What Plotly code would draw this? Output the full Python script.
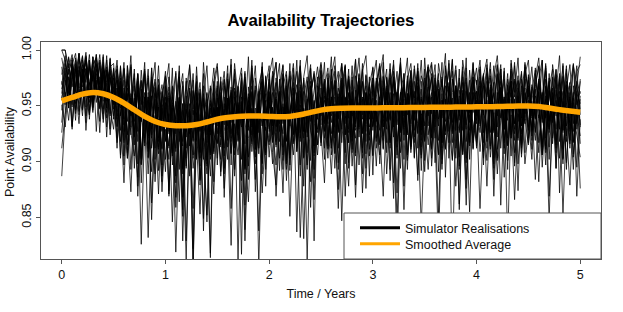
import numpy as np
import plotly.graph_objects as go

# ---------------- data ----------------
# Each simulator realisation: 151 values, t = 0 .. 5 years (step 1/30 year)
r01 = [1.0, 1.0, .978, .993, .952, .986, .971, .995, .938, .982, .964, .991, .947, .979, .958,
       .984, .931, .972, .905, .958, .987, .923, .966, .881, .949, .975, .912, .941, .969, .897,
       .958, .874, .936, .981, .918, .952, .829, .944, .973, .902, .961, .927, .889, .955, .934,
       .972, .915, .948, .986, .897, .963, .938, .979, .861, .951, .924, .968, .907, .985, .942,
       .918, .966, .989, .935, .872, .958, .977, .924, .952, .991, .903, .946, .968, .885, .959,
       .982, .927, .961, .994, .908, .953, .975, .869, .944, .986, .931, .967, .912, .978, .949,
       .905, .971, .988, .939, .962, .883, .955, .981, .926, .969, .993, .914, .947, .976, .892,
       .963, .987, .921, .958, .979, .898, .946, .991, .935, .968, .857, .952, .984, .917, .973,
       .941, .976, .903, .962, .989, .928, .955, .972, .886, .949, .981, .934, .966, .912, .987,
       .958, .923, .979, .946, .991, .908, .964, .937, .983, .872, .955, .972, .919, .961, .986,
       .931]
r02 = [.887, .942, .968, .929, .985, .957, .974, .991, .946, .978, .962, .989, .935, .971, .983,
       .952, .977, .918, .961, .936, .985, .894, .947, .972, .921, .958, .863, .939, .974, .928,
       .891, .957, .942, .819, .925, .968, .903, .946, .979, .917, .853, .938, .962, .908, .949,
       .935, .976, .894, .957, .921, .983, .946, .872, .962, .931, .978, .915, .953, .889, .967,
       .986, .924, .956, .903, .971, .942, .988, .916, .949, .967, .878, .952, .983, .937, .906,
       .948, .972, .911, .965, .986, .929, .953, .898, .974, .941, .991, .922, .958, .876, .969,
       .984, .936, .958, .911, .975, .949, .867, .961, .988, .924, .952, .979, .903, .966, .941,
       .919, .965, .987, .943, .906, .972, .951, .988, .927, .959, .893, .976, .945, .962, .911,
       .973, .932, .958, .987, .914, .951, .979, .861, .945, .968, .924, .986, .953, .907, .962,
       .928, .969, .947, .882, .958, .984, .931, .966, .912, .975, .953, .899, .942, .988, .951,
       .963]
r03 = [1.0, .991, .967, .984, .943, .979, .995, .962, .988, .951, .973, .996, .958, .982, .929,
       .967, .912, .985, .948, .961, .893, .952, .979, .936, .962, .909, .984, .945, .871, .955,
       .981, .931, .962, .887, .946, .918, .975, .938, .808, .953, .927, .968, .896, .942, .972,
       .903, .958, .981, .932, .964, .917, .951, .883, .969, .943, .986, .928, .955, .899, .977,
       .948, .981, .913, .962, .937, .974, .892, .953, .928, .985, .946, .908, .961, .979, .926,
       .958, .902, .975, .941, .969, .926, .988, .951, .917, .963, .934, .979, .889, .947, .971,
       .928, .972, .955, .989, .908, .949, .976, .933, .962, .878, .954, .981, .937, .968, .919,
       .983, .947, .903, .969, .938, .976, .924, .958, .992, .912, .948, .971, .936, .855, .962,
       .912, .968, .942, .979, .951, .894, .963, .987, .929, .957, .972, .908, .946, .981, .934,
       .976, .941, .965, .917, .953, .988, .936, .962, .894, .971, .945, .983, .927, .958, .969,
       .942]
r04 = [.957, .979, .948, .991, .966, .934, .983, .971, .996, .952, .987, .963, .978, .944, .992,
       .938, .973, .956, .989, .924, .961, .947, .978, .902, .954, .983, .929, .966, .941, .882,
       .947, .962, .908, .937, .976, .851, .942, .963, .919, .985, .934, .957, .901, .968, .912,
       .961, .887, .943, .972, .925, .958, .811, .946, .979, .931, .962, .904, .953, .985, .937,
       .971, .935, .958, .892, .967, .981, .941, .918, .962, .986, .927, .953, .972, .905, .959,
       .933, .967, .984, .925, .952, .899, .971, .946, .983, .918, .959, .975, .938, .961, .887,
       .969, .942, .917, .976, .955, .988, .931, .962, .947, .973, .906, .954, .983, .926, .958,
       .891, .954, .975, .938, .963, .912, .986, .957, .929, .968, .944, .981, .903, .959, .976,
       .949, .926, .971, .958, .983, .937, .901, .965, .948, .979, .921, .956, .874, .962, .985,
       .917, .963, .938, .974, .952, .986, .929, .958, .941, .979, .903, .951, .968, .934, .972,
       .961]
r05 = [.972, .951, .988, .967, .983, .942, .975, .993, .958, .981, .966, .947, .985, .971, .924,
       .959, .986, .941, .973, .903, .951, .968, .927, .982, .946, .889, .957, .974, .918, .963,
       .937, .914, .958, .979, .893, .946, .927, .966, .942, .971, .884, .935, .961, .902, .948,
       .925, .957, .973, .913, .942, .966, .931, .954, .839, .946, .968, .922, .959, .974, .906,
       .954, .977, .931, .958, .986, .919, .948, .971, .837, .942, .963, .926, .958, .981, .945,
       .981, .936, .957, .912, .973, .948, .985, .924, .961, .942, .977, .897, .953, .968, .931,
       .944, .967, .986, .923, .951, .975, .936, .962, .918, .949, .893, .968, .957, .981, .928,
       .962, .985, .912, .947, .973, .939, .958, .981, .925, .956, .971, .942, .876, .957, .989,
       .934, .962, .978, .918, .951, .986, .941, .967, .929, .955, .983, .919, .958, .939, .974,
       .953, .911, .969, .985, .938, .957, .972, .921, .963, .947, .988, .932, .956, .917, .968,
       .947]
r06 = [.946, .968, .983, .931, .965, .952, .987, .928, .971, .944, .979, .962, .938, .985, .957,
       .968, .917, .944, .881, .953, .926, .905, .947, .826, .935, .958, .891, .932, .949, .873,
       .929, .902, .951, .859, .927, .914, .812, .938, .903, .944, .883, .921, .846, .936, .909,
       .948, .891, .927, .955, .858, .934, .906, .947, .829, .921, .943, .898, .937, .872, .931,
       .915, .949, .869, .931, .952, .893, .938, .906, .947, .832, .922, .945, .882, .934, .956,
       .927, .881, .948, .917, .943, .858, .935, .957, .899, .944, .921, .953, .872, .936, .951,
       .906, .945, .928, .869, .951, .917, .938, .847, .942, .956, .901, .936, .952, .888, .943,
       .934, .893, .947, .925, .821, .951, .912, .939, .957, .878, .931, .948, .899, .942, .921,
       .946, .858, .933, .955, .904, .944, .889, .937, .956, .914, .942, .866, .935, .951, .898,
       .929, .952, .884, .942, .916, .956, .869, .938, .947, .903, .954, .928, .879, .944, .925,
       .904]
r07 = [.961, .988, .973, .949, .993, .967, .941, .984, .972, .955, .996, .968, .943, .982, .959,
       .975, .938, .967, .919, .979, .946, .926, .963, .904, .958, .937, .974, .912, .951, .969,
       .943, .912, .968, .929, .957, .894, .947, .925, .964, .903, .938, .961, .917, .952, .933,
       .968, .935, .912, .957, .941, .979, .918, .952, .937, .904, .963, .911, .955, .932, .976,
       .937, .962, .918, .974, .906, .953, .936, .978, .912, .961, .939, .897, .968, .945, .915,
       .966, .934, .979, .912, .958, .939, .973, .924, .962, .896, .948, .978, .928, .961, .911,
       .975, .938, .915, .966, .929, .983, .947, .906, .962, .935, .977, .911, .954, .984, .931,
       .957, .981, .926, .963, .907, .948, .977, .932, .901, .966, .941, .985, .918, .952, .976,
       .914, .958, .979, .925, .967, .898, .951, .983, .929, .962, .905, .974, .946, .917, .981,
       .965, .928, .984, .952, .908, .968, .937, .976, .915, .951, .986, .923, .962, .904, .948,
       .972]
r08 = [.985, .958, .994, .932, .978, .997, .946, .983, .961, .991, .927, .976, .954, .995, .941,
       .983, .932, .968, .897, .986, .941, .975, .878, .958, .981, .923, .984, .902, .967, .938,
       .977, .869, .958, .936, .986, .889, .951, .973, .822, .962, .928, .979, .898, .955, .984,
       .939, .972, .868, .953, .987, .912, .968, .943, .981, .884, .959, .986, .926, .964, .893,
       .979, .932, .966, .988, .901, .952, .981, .925, .962, .887, .975, .943, .984, .914, .958,
       .987, .912, .967, .944, .981, .893, .961, .987, .929, .973, .879, .955, .983, .934, .976,
       .888, .966, .985, .931, .976, .949, .991, .903, .962, .979, .924, .972, .943, .988, .913,
       .967, .985, .922, .973, .948, .989, .886, .964, .981, .935, .983, .909, .969, .944, .988,
       .945, .983, .897, .966, .977, .926, .986, .952, .907, .974, .958, .989, .921, .968, .937,
       .978, .919, .967, .986, .935, .974, .902, .961, .982, .943, .976, .893, .968, .987, .929,
       .974]
r09 = [.926, .962, .937, .974, .986, .945, .978, .958, .991, .949, .983, .961, .994, .939, .975,
       .962, .973, .928, .966, .908, .951, .925, .886, .943, .917, .962, .848, .937, .911, .956,
       .918, .943, .846, .931, .958, .893, .928, .952, .906, .961, .879, .936, .913, .814, .947,
       .931, .902, .952, .919, .967, .887, .939, .958, .912, .864, .948, .926, .963, .898, .942,
       .958, .908, .879, .946, .925, .966, .897, .951, .922, .963, .904, .947, .859, .955, .929,
       .943, .971, .912, .958, .894, .946, .967, .921, .878, .956, .928, .969, .908, .952, .924,
       .957, .912, .948, .972, .889, .941, .961, .918, .952, .857, .946, .966, .922, .958, .903,
       .948, .967, .896, .941, .962, .917, .953, .971, .902, .947, .926, .964, .884, .951, .932,
       .917, .952, .968, .921, .958, .869, .947, .966, .919, .951, .972, .899, .943, .925, .961,
       .938, .902, .959, .948, .913, .967, .926, .955, .894, .946, .963, .918, .952, .907, .944,
       .923]
r10 = [.993, .975, .952, .988, .966, .997, .947, .983, .959, .994, .971, .936, .987, .954, .981,
       .968, .945, .981, .927, .966, .948, .915, .972, .936, .979, .903, .955, .971, .921, .962,
       .939, .967, .908, .954, .935, .972, .894, .947, .918, .961, .932, .849, .956, .924, .966,
       .916, .959, .937, .969, .908, .952, .924, .973, .893, .955, .931, .964, .912, .968, .941,
       .963, .929, .897, .956, .975, .918, .943, .966, .909, .951, .973, .922, .958, .893, .962,
       .941, .974, .921, .955, .972, .912, .958, .934, .977, .919, .946, .968, .903, .962, .938,
       .964, .918, .973, .936, .955, .979, .922, .958, .908, .967, .942, .963, .917, .971, .933,
       .966, .932, .962, .899, .954, .974, .928, .961, .917, .968, .945, .906, .963, .935, .971,
       .937, .968, .917, .959, .975, .929, .903, .963, .935, .969, .921, .952, .973, .916, .958,
       .968, .943, .919, .971, .906, .959, .936, .975, .918, .963, .928, .967, .912, .957, .934,
       .959]
r11 = [.965, .984, .948, .976, .991, .957, .982, .941, .987, .962, .994, .949, .978, .931, .973,
       .958, .921, .975, .938, .903, .957, .924, .968, .897, .942, .832, .931, .956, .907, .948,
       .919, .959, .897, .937, .864, .952, .912, .945, .803, .929, .955, .902, .944, .926, .871,
       .949, .913, .958, .928, .825, .952, .919, .947, .896, .961, .909, .943, .838, .932, .955,
       .904, .948, .927, .961, .913, .951, .851, .939, .958, .897, .947, .812, .933, .954, .915,
       .957, .928, .964, .906, .949, .958, .847, .941, .926, .962, .905, .948, .956, .894, .945,
       .931, .955, .898, .947, .962, .917, .946, .809, .953, .931, .961, .913, .947, .883, .956,
       .948, .915, .958, .936, .852, .955, .927, .949, .805, .941, .959, .907, .949, .928, .962,
       .921, .955, .943, .878, .951, .962, .911, .944, .958, .826, .948, .929, .959, .904, .949,
       .955, .927, .948, .962, .906, .945, .847, .953, .929, .958, .911, .949, .935, .962, .869,
       .938]
r12 = [.951, .931, .968, .987, .946, .975, .994, .958, .942, .989, .969, .948, .984, .961, .993,
       .951, .982, .958, .938, .977, .924, .961, .943, .973, .914, .955, .939, .889, .962, .928,
       .967, .925, .948, .909, .958, .936, .896, .946, .921, .968, .903, .952, .938, .887, .957,
       .932, .971, .905, .948, .962, .913, .953, .931, .974, .896, .947, .922, .959, .972, .908,
       .953, .918, .962, .934, .979, .902, .945, .958, .921, .969, .938, .956, .901, .948, .976,
       .921, .955, .938, .972, .907, .961, .929, .978, .943, .911, .958, .931, .971, .918, .956,
       .975, .933, .906, .962, .947, .919, .971, .952, .928, .979, .908, .946, .963, .925, .972,
       .918, .954, .976, .931, .965, .902, .952, .938, .974, .955, .896, .961, .933, .973, .912,
       .963, .937, .909, .972, .946, .961, .922, .977, .948, .901, .956, .934, .972, .915, .952,
       .931, .967, .953, .908, .962, .939, .975, .916, .955, .934, .898, .958, .971, .927, .963,
       .916]
r13 = [.912, .943, .976, .951, .988, .959, .982, .935, .991, .948, .973, .926, .985, .957, .979,
       .941, .966, .903, .954, .928, .873, .946, .967, .898, .942, .921, .959, .882, .938, .911,
       .953, .871, .933, .912, .957, .829, .931, .945, .894, .927, .962, .913, .852, .941, .924,
       .917, .951, .876, .934, .958, .906, .942, .967, .889, .936, .918, .948, .807, .929, .961,
       .935, .898, .956, .927, .949, .883, .938, .962, .914, .947, .831, .932, .965, .908, .946,
       .917, .959, .936, .889, .951, .927, .966, .908, .955, .941, .868, .947, .926, .962, .905,
       .946, .896, .954, .931, .968, .912, .947, .872, .953, .929, .961, .908, .949, .934, .842,
       .929, .952, .911, .963, .938, .893, .956, .927, .945, .966, .904, .947, .861, .953, .926,
       .955, .909, .946, .928, .964, .884, .943, .955, .912, .948, .962, .896, .951, .927, .938,
       .915, .954, .927, .963, .895, .946, .929, .959, .908, .951, .853, .939, .958, .918, .947,
       .876]
r14 = [.978, .995, .961, .987, .997, .966, .991, .949, .985, .972, .996, .958, .984, .967, .943,
       .979, .951, .986, .933, .972, .946, .983, .918, .965, .941, .977, .924, .961, .948, .912,
       .968, .927, .953, .938, .976, .914, .959, .935, .858, .947, .971, .919, .952, .966, .907,
       .957, .922, .968, .941, .907, .962, .932, .975, .916, .958, .939, .884, .951, .971, .928,
       .974, .939, .915, .963, .934, .978, .906, .955, .969, .921, .958, .976, .928, .914, .968,
       .952, .921, .973, .935, .963, .981, .917, .958, .939, .976, .908, .954, .972, .927, .961,
       .938, .975, .952, .919, .966, .937, .981, .913, .958, .969, .926, .973, .904, .955, .977,
       .966, .924, .953, .978, .932, .961, .911, .967, .949, .982, .928, .953, .975, .918, .957,
       .963, .934, .977, .912, .954, .971, .931, .983, .917, .952, .972, .925, .962, .979, .908,
       .973, .949, .926, .968, .957, .914, .979, .935, .964, .929, .977, .953, .916, .968, .955,
       .933]
r15 = [1.0, 1.0, .984, .996, .965, .992, .979, .998, .957, .987, .993, .969, .996, .948, .989,
       .968, .991, .942, .984, .955, .995, .922, .979, .951, .989, .904, .976, .943, .986, .927,
       .966, .988, .905, .955, .981, .868, .963, .986, .931, .977, .909, .989, .947, .818, .973,
       .988, .927, .974, .948, .992, .893, .967, .984, .938, .994, .916, .975, .951, .989, .878,
       .977, .993, .932, .968, .987, .901, .974, .945, .991, .918, .976, .995, .936, .964, .985,
       .953, .989, .914, .977, .994, .938, .969, .986, .894, .965, .992, .929, .981, .995, .943,
       .985, .938, .977, .996, .917, .968, .987, .945, .993, .902, .974, .988, .949, .981, .924,
       .993, .951, .979, .921, .988, .967, .997, .903, .962, .986, .937, .991, .968, .914, .983,
       .969, .991, .942, .984, .911, .976, .995, .951, .981, .893, .988, .962, .993, .932, .978,
       .991, .939, .975, .993, .948, .981, .913, .987, .963, .995, .928, .979, .944, .986, .968,
       .994]
r16 = [.955, .978, .993, .981, .962, .997, .975, .991, .953, .994, .983, .966, .989, .948, .985,
       .988, .941, .972, .917, .986, .955, .979, .898, .951, .983, .927, .965, .989, .913, .959,
       .976, .932, .984, .881, .961, .979, .922, .987, .947, .972, .896, .958, .986, .927, .966,
       .985, .948, .889, .974, .935, .988, .956, .817, .976, .943, .991, .911, .968, .983, .946,
       .929, .974, .989, .942, .978, .898, .963, .988, .946, .979, .921, .967, .987, .829, .971,
       .989, .961, .934, .983, .921, .971, .988, .949, .976, .908, .966, .993, .942, .977, .919,
       .973, .991, .928, .964, .983, .893, .976, .958, .989, .941, .972, .921, .986, .955, .991,
       .932, .977, .989, .949, .971, .917, .984, .959, .991, .928, .975, .946, .993, .902, .966,
       .984, .946, .977, .992, .926, .967, .987, .949, .974, .915, .991, .958, .977, .932, .989,
       .958, .985, .939, .974, .991, .921, .966, .983, .948, .977, .902, .965, .987, .942, .981,
       .987]
r17 = [.969, .991, .952, .979, .937, .985, .962, .994, .971, .946, .988, .957, .981, .922, .976,
       .947, .983, .906, .962, .974, .931, .957, .869, .944, .978, .912, .953, .935, .968, .887,
       .943, .976, .912, .868, .954, .931, .972, .887, .946, .919, .965, .838, .951, .906, .969,
       .897, .962, .933, .979, .918, .948, .967, .902, .957, .928, .984, .873, .943, .966, .914,
       .962, .917, .975, .946, .893, .968, .932, .984, .909, .951, .927, .972, .944, .866, .958,
       .914, .967, .948, .982, .929, .875, .958, .939, .976, .922, .964, .943, .988, .907, .951,
       .969, .921, .954, .977, .936, .962, .881, .947, .985, .919, .958, .934, .972, .912, .965,
       .901, .958, .943, .975, .891, .949, .968, .917, .974, .938, .862, .961, .929, .982, .944,
       .957, .985, .926, .948, .969, .903, .962, .939, .984, .921, .955, .972, .898, .947, .966,
       .921, .964, .982, .939, .952, .897, .968, .944, .976, .918, .958, .986, .929, .953, .895,
       .956]
r18 = [.935, .973, .958, .989, .946, .982, .967, .993, .942, .977, .953, .986, .962, .991, .948,
       .929, .966, .948, .983, .915, .957, .936, .972, .903, .958, .944, .921, .967, .892, .951,
       .902, .948, .967, .925, .943, .857, .952, .914, .963, .937, .908, .956, .924, .948, .882,
       .966, .925, .947, .902, .958, .974, .929, .951, .894, .967, .938, .921, .955, .932, .971,
       .927, .955, .971, .918, .944, .962, .903, .957, .981, .926, .948, .893, .962, .977, .938,
       .976, .943, .903, .958, .931, .966, .948, .985, .917, .955, .936, .972, .925, .944, .967,
       .932, .958, .975, .912, .961, .938, .972, .953, .894, .966, .948, .982, .928, .951, .906,
       .975, .941, .962, .987, .919, .955, .936, .968, .947, .903, .964, .928, .971, .952, .917,
       .953, .972, .938, .901, .964, .949, .978, .912, .958, .937, .969, .952, .919, .974, .943,
       .966, .929, .951, .972, .943, .911, .963, .938, .978, .955, .926, .969, .942, .893, .961,
       .952]
realisations = [r01, r02, r03, r04, r05, r06, r07, r08, r09,
                r10, r11, r12, r13, r14, r15, r16, r17, r18]

# Smoothed average, t = 0 .. 5 years (step 0.1 year)
smoothed_avg = [.9545, .9575, .9605, .9620, .9608, .9575, .9525, .9465, .9405, .9360,
                .9333, .9322, .9322, .9333, .9355, .9380, .9396, .9405, .9408, .9408,
                .9405, .9402, .9405, .9420, .9442, .9462, .9474, .9479, .9481, .9481,
                .9481, .9482, .9483, .9484, .9485, .9486, .9487, .9488, .9489, .9490,
                .9491, .9492, .9494, .9496, .9498, .9499, .9494, .9480, .9466, .9453,
                .9442]

x_ticks = [0, 1, 2, 3, 4, 5]
y_ticks = [0.85, 0.90, 0.95, 1.00]
y_ticktext = ["0.85", "0.90", "0.95", "1.00"]
years_total = 5

# ---------------- figure ----------------
FONT = "Liberation Sans, Arial, Helvetica, sans-serif"
fig = go.Figure()

for r in realisations:
    fig.add_trace(go.Scatter(
        x=np.linspace(0, years_total, len(r)), y=r, mode="lines",
        line=dict(color="black", width=0.75), showlegend=False, hoverinfo="skip"))

fig.add_trace(go.Scatter(
    x=np.linspace(0, years_total, len(smoothed_avg)), y=smoothed_avg, mode="lines",
    line=dict(color="#FFA500", width=5.5, shape="spline"), showlegend=False))

# legend entries (one legend each, so they can be placed exactly)
fig.add_trace(go.Scatter(x=[None], y=[None], mode="lines", name="Simulator Realisations",
                         line=dict(color="black", width=3), legend="legend"))
fig.add_trace(go.Scatter(x=[None], y=[None], mode="lines", name="Smoothed Average",
                         line=dict(color="#FFA500", width=3), legend="legend2"))

# full-page figure; plot box 41..601 x 42..259 as in the reference
W, H = 623, 312
box_l, box_r, box_t, box_b = 41, 601, 42, 259
ml, mt = box_l, box_t
pw, ph = box_r - box_l, box_b - box_t
mr, mb = W - ml - pw, H - mt - ph

def px_x(p):
    return (p - box_l) / pw

def px_y(p):
    return (box_b - p) / ph

frame_col = "#555555"
txt_col = "#111111"
fig.add_shape(type="rect", xref="paper", yref="paper",
              x0=px_x(344), x1=1, y0=0, y1=px_y(213),
              fillcolor="white", line=dict(color=frame_col, width=1), layer="above")

# y-axis title placed as a rotated text label (keeps it clear of the tick labels)
fig.add_annotation(text="Point Availability", xref="paper", yref="paper",
                   x=px_x(10), y=px_y(152), xanchor="center", yanchor="middle",
                   textangle=-90, showarrow=False,
                   font=dict(size=12.5, family=FONT, color=txt_col))

leg_common = dict(xanchor="left", yanchor="middle", bgcolor="rgba(0,0,0,0)",
                  borderwidth=0, itemwidth=40,
                  font=dict(size=12.5, family=FONT, color=txt_col))

fig.update_layout(
    width=W, height=H,
    margin=dict(l=ml, r=mr, t=mt, b=mb, autoexpand=False),
    paper_bgcolor="white", plot_bgcolor="white",
    font=dict(family=FONT, size=12.5, color=txt_col),
    title=dict(text="<b>Availability Trajectories</b>", x=0.5, xref="paper",
               y=1 - 20 / H, yref="container", yanchor="middle", xanchor="center",
               font=dict(size=16.8, family=FONT, color="black")),
    showlegend=True,
    legend=dict(x=px_x(355), y=px_y(228), **leg_common),
    legend2=dict(x=px_x(355), y=px_y(244), **leg_common),
    xaxis=dict(range=[-0.2, 5.2], tickvals=x_ticks, ticks="outside", ticklen=4,
               tickcolor=frame_col, showgrid=False, zeroline=False, automargin=False,
               showline=True, mirror=True, linecolor=frame_col, linewidth=1,
               tickfont=dict(size=12.5, family=FONT, color=txt_col),
               title=dict(text="Time / Years", standoff=8,
                          font=dict(size=12.5, family=FONT, color=txt_col))),
    yaxis=dict(range=[0.8128, 1.0072], tickvals=y_ticks, ticktext=y_ticktext,
               tickangle=-90, ticks="outside", ticklen=4, tickcolor=frame_col,
               showgrid=False, zeroline=False, automargin=False,
               showline=True, mirror=True, linecolor=frame_col, linewidth=1,
               tickfont=dict(size=12.5, family=FONT, color=txt_col)),
)

# remove the browser's default 8px page margin so the figure fills the window
fig.write_html("out.html", config={"displayModeBar": False},
               post_script="document.body.style.margin='0';document.body.style.overflow='hidden';")
